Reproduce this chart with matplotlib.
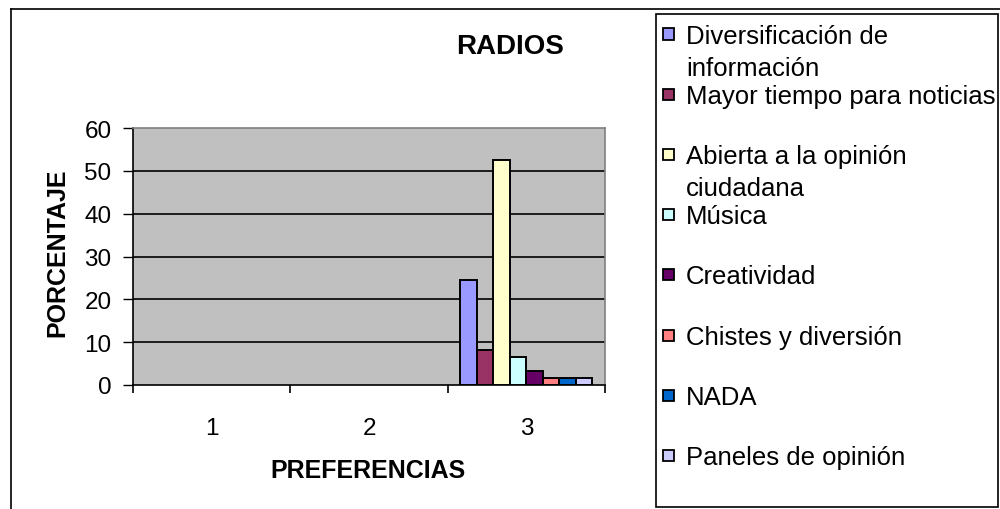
import numpy as np
import matplotlib
matplotlib.use("Agg")
import matplotlib.pyplot as plt
from matplotlib.patches import Rectangle
from matplotlib.lines import Line2D

plt.rcParams['font.family'] = ['Liberation Sans', 'DejaVu Sans']

categories = ["1", "2", "3"]
series_names = [
    "Diversificación de\ninformación",
    "Mayor tiempo para noticias",
    "Abierta a la opinión\nciudadana",
    "Música",
    "Creatividad",
    "Chistes y diversión",
    "NADA",
    "Paneles de opinión",
]
# percentage per preference group (only group 3 has answers)
series_values = [
    [np.nan, np.nan, 24.6],
    [np.nan, np.nan, 8.2],
    [np.nan, np.nan, 52.5],
    [np.nan, np.nan, 6.6],
    [np.nan, np.nan, 3.3],
    [np.nan, np.nan, 1.6],
    [np.nan, np.nan, 1.6],
    [np.nan, np.nan, 1.6],
]
series_colors = ["#9999FF", "#993366", "#FFFFCC", "#CCFFFF",
                 "#660066", "#FF8080", "#0066CC", "#CCCCFF"]
y_ticks = [0, 10, 20, 30, 40, 50, 60]

W, H = 1000, 510
fig = plt.figure(figsize=(W / 100, H / 100), dpi=100)

def fx(px):
    return px / W

def fy(py):
    return 1 - py / H

# outer chart frame
fig.add_artist(Line2D([fx(10.5), fx(10.5)], [fy(9.5), fy(520)], color="black", lw=1.2, transform=fig.transFigure))
fig.add_artist(Line2D([fx(10.5), fx(1010)], [fy(9.5), fy(9.5)], color="black", lw=1.2, transform=fig.transFigure))

ax = fig.add_axes([fx(133), fy(386), fx(605) - fx(133), fy(129) - fy(386)])
ax.set_facecolor("#C0C0C0")

n = len(series_names)
bar_w = 0.105
x = np.arange(len(categories))
for i, (vals, col) in enumerate(zip(series_values, series_colors)):
    ax.bar(x + (i - (n - 1) / 2) * bar_w, vals, width=bar_w, color=col,
           edgecolor="black", linewidth=1.4, zorder=3)

ax.set_xlim(-0.5, len(categories) - 0.5)
ax.set_ylim(0, 60)
ax.set_yticks(y_ticks)
ax.tick_params(axis="y", direction="out", length=7, width=1, labelsize=17.5, pad=8.5)
for t in y_ticks[1:-1]:
    ax.axhline(t, color="black", lw=1.2, zorder=1)

ax.set_xticks(np.arange(len(categories) + 1) - 0.5)
ax.set_xticklabels([])
ax.set_xticks(x, minor=True)
ax.set_xticklabels(categories, minor=True)
ax.tick_params(axis="x", which="major", direction="out", length=6, width=1.2)
ax.tick_params(axis="x", which="minor", length=0, labelsize=17.5, pad=23)

for side in ("top", "right"):
    ax.spines[side].set_color("#808080")
    ax.spines[side].set_linewidth(1.2)
for side in ("left", "bottom"):
    ax.spines[side].set_color("black")
    ax.spines[side].set_linewidth(1.2)

fig.text(fx(510), fy(47.5), "RADIOS", ha="center", va="center", fontsize=20, fontweight="bold")
fig.text(fx(57), fy(253), "PORCENTAJE", ha="center", va="center", rotation=90,
         fontsize=18, fontweight="bold")
fig.text(fx(367.5), fy(471), "PREFERENCIAS", ha="center", va="center", fontsize=18, fontweight="bold")

# legend box
fig.add_artist(Rectangle((fx(655.5), fy(507.5)), fx(998) - fx(655.5), fy(15) - fy(507.5),
                         transform=fig.transFigure, fill=False, edgecolor="black", lw=1.2))
for i, (name, col) in enumerate(zip(series_names, series_colors)):
    yc = 35 + 60.2 * i
    fig.add_artist(Rectangle((fx(662.5), fy(yc + 5.5)), fx(11), 11 / H,
                             transform=fig.transFigure, facecolor=col,
                             edgecolor="black", lw=1.3))
    for k, line in enumerate(name.split("\n")):
        fig.text(fx(686), fy(yc + 8.5 + 32 * k), line, ha="left", va="baseline",
                 fontsize=18.5)

fig.savefig("out.png", dpi=100)
